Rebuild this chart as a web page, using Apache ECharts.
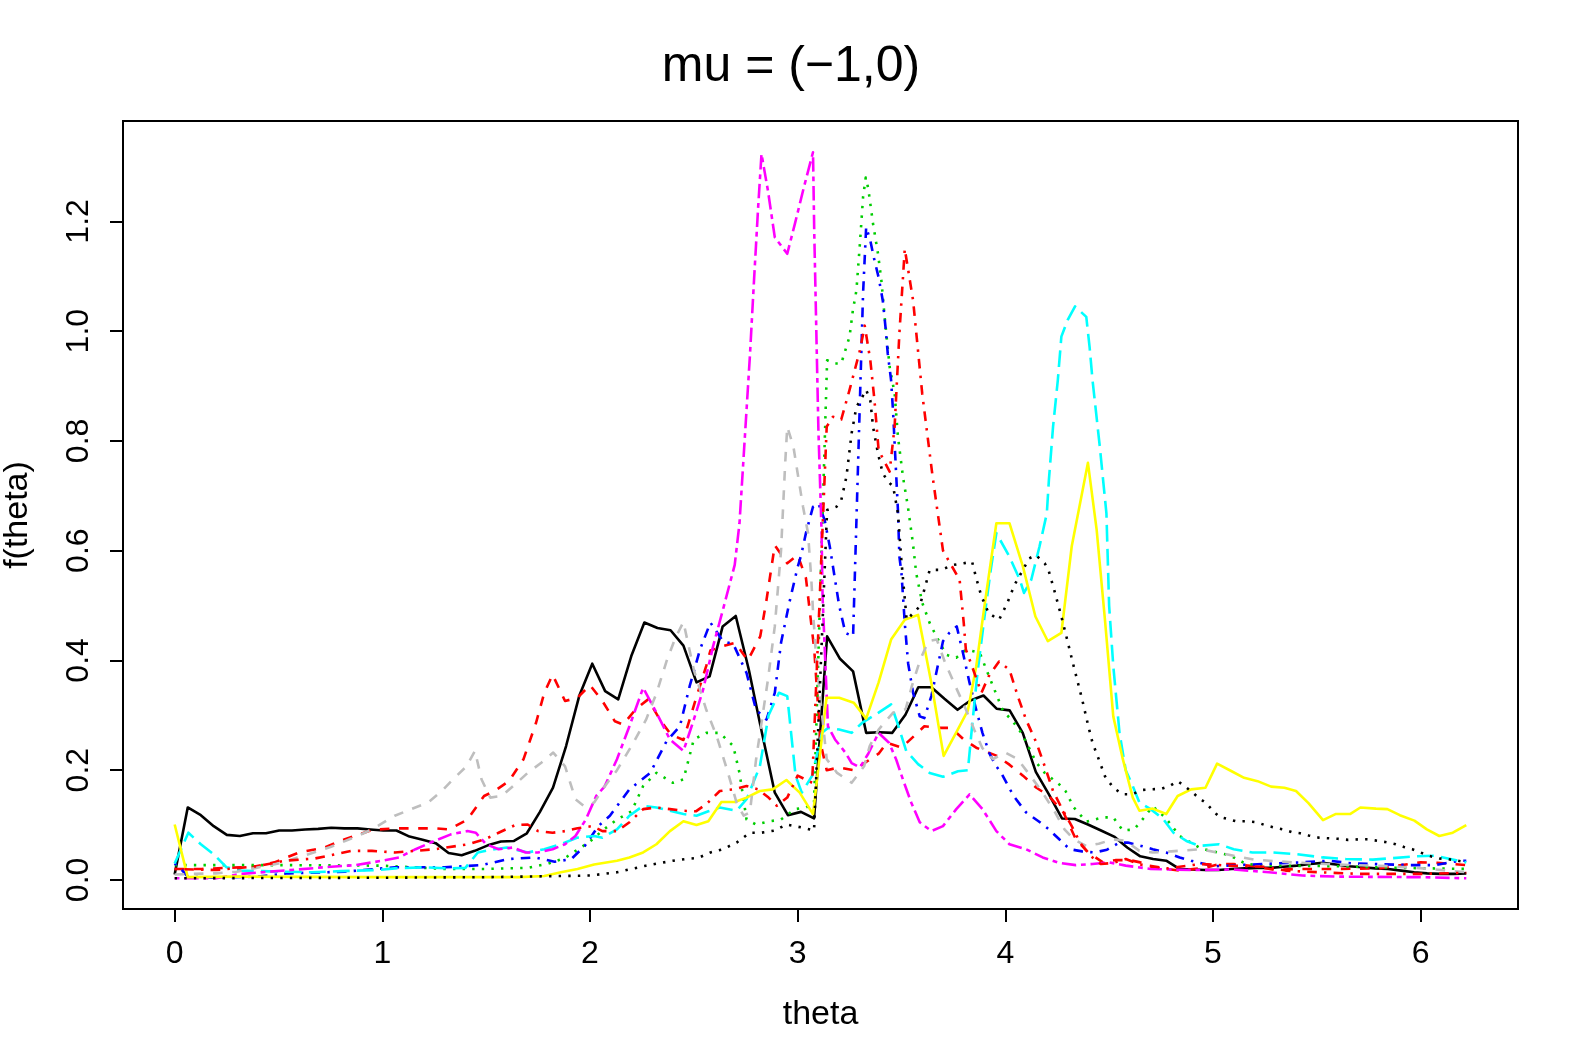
<!DOCTYPE html>
<html>
<head>
<meta charset="UTF-8">
<title>mu = (-1,0)</title>
<script src="https://cdn.jsdelivr.net/npm/echarts/dist/echarts.min.js"></script>
<style>
body { margin: 0; background: #fff; }
</style>
</head>
<body>
<div id="main" style="width: 1582px;height:1063px;"></div>
<script type="text/javascript">
// tick labels
var xTicks = [0, 1, 2, 3, 4, 5, 6];
var yTicks = [0, 0.2, 0.4, 0.6, 0.8, 1.0, 1.2];

// curves, [theta, f(theta)]
var blackSolid = [[0,0.01],[0.063,0.132],[0.126,0.118],[0.188,0.098],[0.251,0.082],[0.314,0.08],[0.377,0.085],[0.44,0.085],[0.503,0.09],[0.565,0.09],[0.628,0.092],[0.691,0.093],[0.754,0.095],[0.817,0.094],[0.88,0.094],[0.942,0.092],[1.005,0.09],[1.068,0.09],[1.131,0.079],[1.194,0.073],[1.257,0.067],[1.319,0.049],[1.382,0.045],[1.445,0.053],[1.508,0.063],[1.571,0.07],[1.634,0.071],[1.696,0.085],[1.759,0.124],[1.822,0.168],[1.885,0.244],[1.948,0.335],[2.011,0.394],[2.073,0.344],[2.136,0.329],[2.199,0.408],[2.262,0.469],[2.325,0.459],[2.388,0.455],[2.45,0.427],[2.513,0.36],[2.576,0.371],[2.639,0.462],[2.702,0.481],[2.765,0.383],[2.827,0.27],[2.89,0.159],[2.953,0.118],[3.016,0.124],[3.079,0.112],[3.142,0.444],[3.204,0.403],[3.267,0.38],[3.33,0.268],[3.393,0.269],[3.456,0.268],[3.519,0.301],[3.581,0.351],[3.644,0.351],[3.707,0.33],[3.77,0.31],[3.832,0.327],[3.895,0.336],[3.958,0.312],[4.021,0.309],[4.084,0.268],[4.147,0.197],[4.21,0.156],[4.273,0.112],[4.335,0.111],[4.398,0.101],[4.461,0.09],[4.524,0.079],[4.587,0.059],[4.65,0.043],[4.712,0.038],[4.775,0.035],[4.838,0.02],[4.901,0.019],[4.964,0.018],[5.027,0.018],[5.089,0.02],[5.152,0.021],[5.215,0.022],[5.278,0.022],[5.341,0.024],[5.404,0.026],[5.466,0.029],[5.529,0.031],[5.592,0.028],[5.655,0.025],[5.718,0.023],[5.781,0.021],[5.843,0.02],[5.906,0.017],[5.969,0.014],[6.032,0.012],[6.095,0.011],[6.158,0.011],[6.22,0.012]];

var redDashed = [[0,0.02],[0.13,0.02],[0.25,0.022],[0.38,0.024],[0.48,0.032],[0.6,0.05],[0.72,0.059],[0.82,0.074],[0.95,0.091],[1.06,0.094],[1.19,0.094],[1.25,0.094],[1.32,0.092],[1.41,0.11],[1.49,0.153],[1.54,0.162],[1.61,0.18],[1.68,0.22],[1.74,0.286],[1.78,0.341],[1.82,0.374],[1.88,0.326],[1.94,0.332],[2.0,0.355],[2.06,0.326],[2.12,0.289],[2.16,0.283],[2.22,0.311],[2.28,0.329],[2.34,0.29],[2.39,0.265],[2.45,0.255],[2.51,0.33],[2.56,0.39],[2.58,0.418],[2.64,0.426],[2.7,0.432],[2.76,0.4],[2.82,0.444],[2.85,0.51],[2.89,0.61],[2.95,0.577],[3.0,0.592],[3.04,0.55],[3.08,0.42],[3.11,0.25],[3.14,0.2],[3.2,0.205],[3.27,0.2],[3.33,0.215],[3.39,0.23],[3.43,0.25],[3.5,0.241],[3.56,0.262],[3.61,0.28],[3.68,0.277],[3.74,0.277],[3.8,0.256],[3.86,0.241],[3.92,0.232],[3.96,0.226],[4.02,0.21],[4.085,0.19],[4.15,0.168],[4.21,0.153],[4.28,0.123],[4.34,0.074],[4.4,0.05],[4.47,0.032],[4.53,0.036],[4.6,0.036],[4.65,0.032],[4.71,0.023],[4.84,0.017],[4.96,0.022],[5.03,0.029],[5.1,0.029],[5.2,0.025],[5.3,0.018],[5.4,0.02],[5.6,0.02],[5.8,0.021],[6.0,0.032],[6.08,0.031],[6.22,0.027]];

var greenDotted = [[0,0.027],[0.5,0.027],[1.0,0.026],[1.2,0.022],[1.3,0.02],[1.5,0.02],[1.7,0.022],[1.8,0.03],[1.88,0.04],[1.94,0.055],[2.0,0.07],[2.06,0.09],[2.13,0.11],[2.2,0.125],[2.256,0.171],[2.32,0.195],[2.4,0.177],[2.45,0.183],[2.5,0.256],[2.56,0.268],[2.625,0.268],[2.69,0.244],[2.72,0.195],[2.754,0.11],[2.8,0.101],[2.866,0.107],[2.92,0.11],[2.987,0.129],[3.04,0.132],[3.079,0.14],[3.142,0.947],[3.178,0.941],[3.21,0.941],[3.25,0.99],[3.266,1.038],[3.283,1.074],[3.3,1.16],[3.315,1.244],[3.328,1.28],[3.34,1.26],[3.363,1.196],[3.387,1.141],[3.403,1.093],[3.419,1.026],[3.443,0.935],[3.467,0.887],[3.483,0.808],[3.507,0.735],[3.531,0.68],[3.555,0.614],[3.571,0.559],[3.6,0.505],[3.636,0.468],[3.668,0.444],[3.716,0.41],[3.764,0.405],[3.812,0.42],[3.877,0.414],[3.909,0.383],[3.941,0.353],[3.99,0.307],[4.03,0.292],[4.077,0.268],[4.11,0.244],[4.149,0.214],[4.19,0.195],[4.26,0.174],[4.29,0.162],[4.33,0.132],[4.39,0.106],[4.47,0.114],[4.52,0.114],[4.566,0.09],[4.62,0.092],[4.654,0.107],[4.71,0.134],[4.744,0.123],[4.776,0.111],[4.84,0.08],[4.943,0.057],[5.08,0.045],[5.16,0.029],[5.26,0.026],[5.6,0.025],[5.9,0.022],[6.22,0.02]];

var blueDotDash = [[0,0.03],[0.03,0.02],[0.063,0.006],[0.2,0.004],[0.4,0.006],[0.55,0.012],[0.82,0.015],[1.0,0.021],[1.06,0.023],[1.3,0.023],[1.48,0.027],[1.606,0.038],[1.735,0.041],[1.83,0.033],[1.91,0.038],[1.975,0.062],[2.04,0.098],[2.096,0.117],[2.19,0.165],[2.29,0.195],[2.369,0.253],[2.433,0.28],[2.48,0.353],[2.53,0.42],[2.58,0.469],[2.64,0.435],[2.69,0.43],[2.754,0.377],[2.8,0.31],[2.85,0.292],[2.89,0.341],[2.92,0.432],[2.96,0.505],[3.0,0.57],[3.017,0.592],[3.04,0.632],[3.074,0.68],[3.1,0.686],[3.13,0.656],[3.155,0.607],[3.2,0.5],[3.23,0.45],[3.267,0.444],[3.3,0.875],[3.315,1.068],[3.33,1.19],[3.35,1.165],[3.37,1.129],[3.39,1.098],[3.41,1.056],[3.423,1.008],[3.434,0.959],[3.45,0.911],[3.46,0.85],[3.467,0.796],[3.475,0.735],[3.483,0.674],[3.49,0.589],[3.5,0.559],[3.516,0.468],[3.532,0.395],[3.556,0.341],[3.588,0.298],[3.61,0.295],[3.644,0.335],[3.7,0.435],[3.73,0.45],[3.766,0.462],[3.796,0.414],[3.828,0.359],[3.86,0.31],[3.89,0.268],[3.924,0.23],[3.957,0.207],[3.98,0.195],[4.04,0.153],[4.1,0.123],[4.16,0.107],[4.21,0.092],[4.26,0.074],[4.31,0.056],[4.37,0.052],[4.43,0.05],[4.49,0.055],[4.55,0.068],[4.59,0.068],[4.654,0.062],[4.71,0.056],[4.775,0.05],[4.84,0.041],[4.895,0.035],[4.95,0.03],[5.01,0.025],[5.24,0.029],[5.43,0.032],[5.56,0.035],[5.67,0.03],[5.95,0.027],[6.07,0.027],[6.19,0.035],[6.22,0.035]];

var cyanLongDash = [[0,0.03],[0.066,0.086],[0.126,0.065],[0.187,0.047],[0.25,0.023],[0.32,0.017],[0.5,0.015],[0.66,0.014],[0.8,0.016],[0.98,0.018],[1.06,0.021],[1.2,0.023],[1.32,0.021],[1.4,0.022],[1.46,0.05],[1.54,0.056],[1.6,0.059],[1.7,0.05],[1.78,0.056],[1.86,0.065],[1.94,0.077],[2.02,0.08],[2.06,0.077],[2.13,0.092],[2.19,0.117],[2.256,0.135],[2.32,0.132],[2.385,0.126],[2.45,0.12],[2.513,0.117],[2.57,0.125],[2.625,0.132],[2.706,0.126],[2.754,0.147],[2.818,0.207],[2.86,0.3],[2.91,0.341],[2.95,0.335],[2.99,0.19],[3.02,0.159],[3.07,0.19],[3.117,0.268],[3.146,0.277],[3.2,0.274],[3.26,0.268],[3.31,0.286],[3.39,0.305],[3.45,0.32],[3.483,0.283],[3.523,0.235],[3.58,0.211],[3.636,0.195],[3.7,0.188],[3.772,0.198],[3.82,0.2],[3.84,0.28],[3.866,0.377],[3.9,0.48],[3.93,0.565],[3.957,0.632],[4.02,0.589],[4.07,0.547],[4.09,0.523],[4.125,0.547],[4.165,0.608],[4.2,0.668],[4.21,0.729],[4.23,0.826],[4.253,0.911],[4.27,0.99],[4.3,1.02],[4.336,1.045],[4.39,1.026],[4.406,0.971],[4.42,0.911],[4.455,0.79],[4.487,0.668],[4.5,0.5],[4.52,0.39],[4.55,0.268],[4.58,0.2],[4.614,0.171],[4.646,0.141],[4.7,0.129],[4.76,0.111],[4.81,0.086],[4.872,0.071],[4.936,0.062],[5.03,0.065],[5.1,0.056],[5.19,0.05],[5.29,0.05],[5.4,0.047],[5.529,0.041],[5.64,0.038],[5.77,0.037],[5.98,0.043],[6.07,0.044],[6.22,0.032]];

var magentaTwoDash = [[0,0.003],[0.2,0.003],[0.32,0.011],[0.56,0.018],[0.72,0.023],[0.87,0.027],[1.0,0.035],[1.08,0.041],[1.16,0.056],[1.25,0.071],[1.33,0.083],[1.41,0.089],[1.45,0.086],[1.5,0.065],[1.56,0.056],[1.63,0.059],[1.69,0.05],[1.75,0.05],[1.82,0.056],[1.88,0.065],[1.93,0.08],[1.98,0.11],[2.03,0.153],[2.07,0.17],[2.13,0.22],[2.19,0.28],[2.256,0.35],[2.32,0.305],[2.385,0.256],[2.45,0.235],[2.5,0.292],[2.545,0.347],[2.593,0.426],[2.64,0.492],[2.697,0.574],[2.72,0.65],[2.745,0.802],[2.77,0.954],[2.79,1.093],[2.81,1.227],[2.826,1.323],[2.857,1.256],[2.89,1.171],[2.95,1.141],[2.987,1.196],[3.03,1.262],[3.074,1.326],[3.08,1.18],[3.09,1.0],[3.1,0.82],[3.115,0.638],[3.12,0.517],[3.146,0.28],[3.18,0.256],[3.23,0.232],[3.26,0.213],[3.3,0.205],[3.34,0.23],[3.39,0.268],[3.44,0.25],[3.475,0.219],[3.507,0.183],[3.547,0.141],[3.588,0.105],[3.644,0.089],[3.7,0.098],[3.764,0.129],[3.828,0.156],[3.89,0.129],[3.957,0.089],[4.02,0.065],[4.1,0.056],[4.18,0.041],[4.26,0.031],[4.34,0.027],[4.42,0.029],[4.5,0.032],[4.58,0.026],[4.7,0.02],[4.9,0.018],[5.1,0.019],[5.27,0.014],[5.43,0.008],[5.6,0.006],[6.0,0.005],[6.22,0.003]];

var yellowSolid = [[0,0.101],[0.063,0.005],[0.3,0.006],[1.0,0.005],[1.66,0.005],[1.78,0.007],[1.86,0.014],[1.94,0.02],[2.02,0.028],[2.13,0.035],[2.19,0.041],[2.256,0.05],[2.32,0.065],[2.385,0.089],[2.45,0.107],[2.513,0.1],[2.57,0.107],[2.633,0.142],[2.697,0.142],[2.754,0.15],[2.818,0.162],[2.88,0.165],[2.946,0.182],[3.01,0.159],[3.074,0.12],[3.139,0.332],[3.2,0.332],[3.27,0.323],[3.33,0.294],[3.39,0.36],[3.45,0.438],[3.516,0.474],[3.58,0.483],[3.644,0.359],[3.703,0.226],[3.764,0.269],[3.82,0.309],[3.86,0.389],[3.9,0.5],[3.957,0.65],[4.02,0.65],[4.085,0.571],[4.145,0.48],[4.205,0.435],[4.27,0.45],[4.32,0.608],[4.398,0.76],[4.44,0.638],[4.48,0.474],[4.52,0.298],[4.566,0.22],[4.614,0.15],[4.646,0.126],[4.71,0.13],[4.775,0.12],[4.83,0.153],[4.895,0.165],[4.964,0.168],[5.02,0.212],[5.09,0.198],[5.15,0.186],[5.215,0.18],[5.28,0.17],[5.344,0.168],[5.4,0.162],[5.46,0.14],[5.53,0.109],[5.59,0.12],[5.66,0.12],[5.71,0.132],[5.785,0.13],[5.84,0.129],[5.9,0.118],[5.97,0.108],[6.03,0.092],[6.09,0.08],[6.155,0.086],[6.22,0.1]];

var grayDashed = [[0,0.01],[0.2,0.012],[0.3,0.015],[0.5,0.03],[0.63,0.045],[0.75,0.06],[0.88,0.08],[0.95,0.092],[1.06,0.117],[1.14,0.129],[1.22,0.141],[1.286,0.162],[1.34,0.183],[1.405,0.207],[1.446,0.235],[1.478,0.183],[1.52,0.15],[1.575,0.153],[1.63,0.171],[1.7,0.195],[1.767,0.214],[1.823,0.232],[1.88,0.207],[1.93,0.147],[1.97,0.135],[2.02,0.141],[2.07,0.17],[2.13,0.2],[2.2,0.244],[2.27,0.292],[2.32,0.34],[2.37,0.4],[2.41,0.44],[2.45,0.47],[2.5,0.383],[2.56,0.31],[2.61,0.262],[2.66,0.201],[2.706,0.141],[2.74,0.117],[2.77,0.123],[2.8,0.22],[2.857,0.365],[2.89,0.462],[2.92,0.6],[2.94,0.759],[2.95,0.826],[2.98,0.789],[3.0,0.741],[3.026,0.68],[3.05,0.632],[3.066,0.547],[3.074,0.49],[3.09,0.4],[3.14,0.22],[3.19,0.195],[3.26,0.177],[3.32,0.207],[3.347,0.244],[3.39,0.274],[3.46,0.305],[3.52,0.311],[3.55,0.353],[3.59,0.401],[3.63,0.435],[3.67,0.438],[3.71,0.396],[3.76,0.353],[3.81,0.311],[3.85,0.274],[3.89,0.24],[3.94,0.22],[4.0,0.232],[4.06,0.22],[4.12,0.19],[4.18,0.159],[4.24,0.123],[4.285,0.092],[4.33,0.074],[4.39,0.062],[4.45,0.066],[4.52,0.074],[4.58,0.071],[4.646,0.053],[4.71,0.05],[4.8,0.052],[4.94,0.056],[5.02,0.05],[5.1,0.044],[5.2,0.037],[5.38,0.032],[5.6,0.028],[5.85,0.025],[6.01,0.021],[6.22,0.014]];

var blackDotted = [[0,0.003],[1.0,0.004],[1.5,0.005],[2.0,0.008],[2.13,0.014],[2.27,0.026],[2.4,0.035],[2.46,0.038],[2.52,0.04],[2.58,0.05],[2.64,0.056],[2.706,0.068],[2.77,0.086],[2.826,0.086],[2.89,0.09],[2.946,0.101],[3.026,0.095],[3.079,0.09],[3.142,0.674],[3.187,0.68],[3.21,0.692],[3.235,0.735],[3.26,0.814],[3.283,0.862],[3.307,0.877],[3.33,0.893],[3.35,0.874],[3.363,0.826],[3.387,0.777],[3.41,0.741],[3.435,0.726],[3.46,0.717],[3.483,0.668],[3.5,0.58],[3.525,0.474],[3.587,0.498],[3.61,0.529],[3.636,0.565],[3.69,0.565],[3.75,0.574],[3.8,0.577],[3.84,0.58],[3.86,0.55],[3.885,0.517],[3.92,0.486],[3.97,0.474],[4.01,0.505],[4.045,0.538],[4.085,0.565],[4.115,0.586],[4.147,0.592],[4.19,0.577],[4.21,0.562],[4.235,0.529],[4.27,0.48],[4.29,0.45],[4.325,0.396],[4.37,0.329],[4.4,0.28],[4.42,0.25],[4.45,0.22],[4.48,0.189],[4.52,0.168],[4.566,0.156],[4.61,0.156],[4.66,0.164],[4.7,0.165],[4.75,0.166],[4.79,0.171],[4.83,0.18],[4.86,0.172],[4.9,0.16],[4.93,0.15],[4.967,0.14],[5.0,0.126],[5.03,0.115],[5.07,0.111],[5.11,0.107],[5.16,0.107],[5.21,0.105],[5.25,0.1],[5.3,0.095],[5.34,0.092],[5.38,0.087],[5.42,0.085],[5.46,0.081],[5.51,0.077],[5.55,0.076],[5.6,0.075],[5.65,0.073],[5.7,0.074],[5.74,0.074],[5.78,0.072],[5.83,0.069],[5.88,0.065],[5.92,0.06],[5.96,0.056],[6.0,0.05],[6.04,0.044],[6.09,0.039],[6.13,0.038],[6.18,0.035],[6.22,0.032]];

var redDotDash = [[0,0.02],[0.2,0.018],[0.4,0.025],[0.53,0.035],[0.675,0.039],[0.853,0.053],[0.95,0.053],[1.06,0.05],[1.16,0.053],[1.254,0.056],[1.414,0.065],[1.494,0.074],[1.56,0.086],[1.64,0.1],[1.7,0.101],[1.75,0.089],[1.82,0.086],[1.88,0.089],[1.94,0.094],[2.01,0.098],[2.06,0.089],[2.13,0.089],[2.19,0.105],[2.256,0.129],[2.32,0.132],[2.385,0.129],[2.45,0.126],[2.51,0.125],[2.56,0.138],[2.625,0.162],[2.69,0.165],[2.754,0.171],[2.81,0.165],[2.86,0.15],[2.9,0.135],[2.95,0.15],[3.0,0.19],[3.07,0.177],[3.14,0.826],[3.17,0.844],[3.21,0.839],[3.25,0.893],[3.3,0.965],[3.323,1.01],[3.35,0.947],[3.37,0.874],[3.39,0.783],[3.443,0.744],[3.467,0.826],[3.49,0.996],[3.516,1.15],[3.556,1.056],[3.6,0.886],[3.65,0.735],[3.7,0.6],[3.73,0.58],[3.78,0.547],[3.8,0.468],[3.81,0.42],[3.84,0.389],[3.885,0.341],[3.92,0.371],[3.97,0.398],[4.02,0.383],[4.06,0.335],[4.1,0.292],[4.15,0.25],[4.19,0.207],[4.23,0.162],[4.27,0.132],[4.32,0.098],[4.36,0.068],[4.41,0.044],[4.46,0.029],[4.52,0.031],[4.58,0.038],[4.65,0.028],[4.78,0.021],[4.94,0.029],[5.08,0.026],[5.25,0.024],[5.35,0.017],[5.45,0.015],[5.7,0.011],[6.0,0.011],[6.22,0.013]];

// R line types, one unit ~ 2.4px
var u = 2.4;
var LTY = {
    solid: 'solid',
    dashed: [4*u, 4*u],
    dotted: [1*u, 3*u],
    dotdash: [1*u, 3*u, 4*u, 3*u],
    longdash: [7*u, 3*u],
    twodash: [2*u, 2*u, 6*u, 2*u]
};

var curves = [
    [blackSolid, '#000000', 'solid'],
    [redDashed, '#FF0000', 'dashed'],
    [greenDotted, '#00CD00', 'dotted'],
    [blueDotDash, '#0000FF', 'dotdash'],
    [cyanLongDash, '#00FFFF', 'longdash'],
    [magentaTwoDash, '#FF00FF', 'twodash'],
    [yellowSolid, '#FFFF00', 'solid'],
    [grayDashed, '#BEBEBE', 'dashed'],
    [blackDotted, '#000000', 'dotted'],
    [redDotDash, '#FF0000', 'dotdash']
];

var FONT = '"Liberation Sans", Arial, Helvetica, sans-serif';

var myChart = echarts.init(document.getElementById('main'), null, {renderer: 'canvas'});

var option = {
    backgroundColor: '#ffffff',
    animation: false,
    title: {
        text: 'mu = (\u22121,0)',
        left: 'center',
        top: 37,
        textStyle: { fontFamily: FONT, fontSize: 50, fontWeight: 'normal', color: '#000' }
    },
    grid: {
        left: 123, right: 64, top: 121, bottom: 154,
        outerBoundsMode: 'none',
        containLabel: false,
        show: true, borderColor: '#000', borderWidth: 2, backgroundColor: 'transparent'
    },
    xAxis: {
        type: 'value',
        min: -0.2488, max: 6.469,
        name: 'theta',
        nameLocation: 'middle',
        nameGap: 89,
        nameTextStyle: { fontFamily: FONT, fontSize: 34, color: '#000' },
        axisLine: { show: false, onZero: false },
        splitLine: { show: false },
        axisTick: { show: true, customValues: xTicks, length: 13, inside: false, lineStyle: { color: '#000', width: 2 } },
        axisLabel: { customValues: xTicks, fontFamily: FONT, fontSize: 32, color: '#000', margin: 29 }
    },
    yAxis: {
        type: 'value',
        min: -0.053, max: 1.383,
        name: 'f(theta)',
        nameLocation: 'middle',
        nameGap: 88,
        nameTextStyle: { fontFamily: FONT, fontSize: 34, color: '#000' },
        axisLine: { show: false, onZero: false },
        splitLine: { show: false },
        axisTick: { show: true, customValues: yTicks, length: 13, lineStyle: { color: '#000', width: 2 } },
        axisLabel: {
            customValues: yTicks, rotate: 90, fontFamily: FONT, fontSize: 32, color: '#000', margin: 28,
            formatter: function (v) { return v.toFixed(1); }
        }
    },
    series: curves.map(function (c, i) {
        return {
            name: 'c' + (i + 1),
            type: 'line',
            data: c[0],
            showSymbol: false,
            symbol: 'none',
            silent: true,
            lineStyle: { color: c[1], width: 2.6, type: LTY[c[2]], cap: 'butt', join: 'round' }
        };
    })
};

myChart.setOption(option);
</script>
</body>
</html>
